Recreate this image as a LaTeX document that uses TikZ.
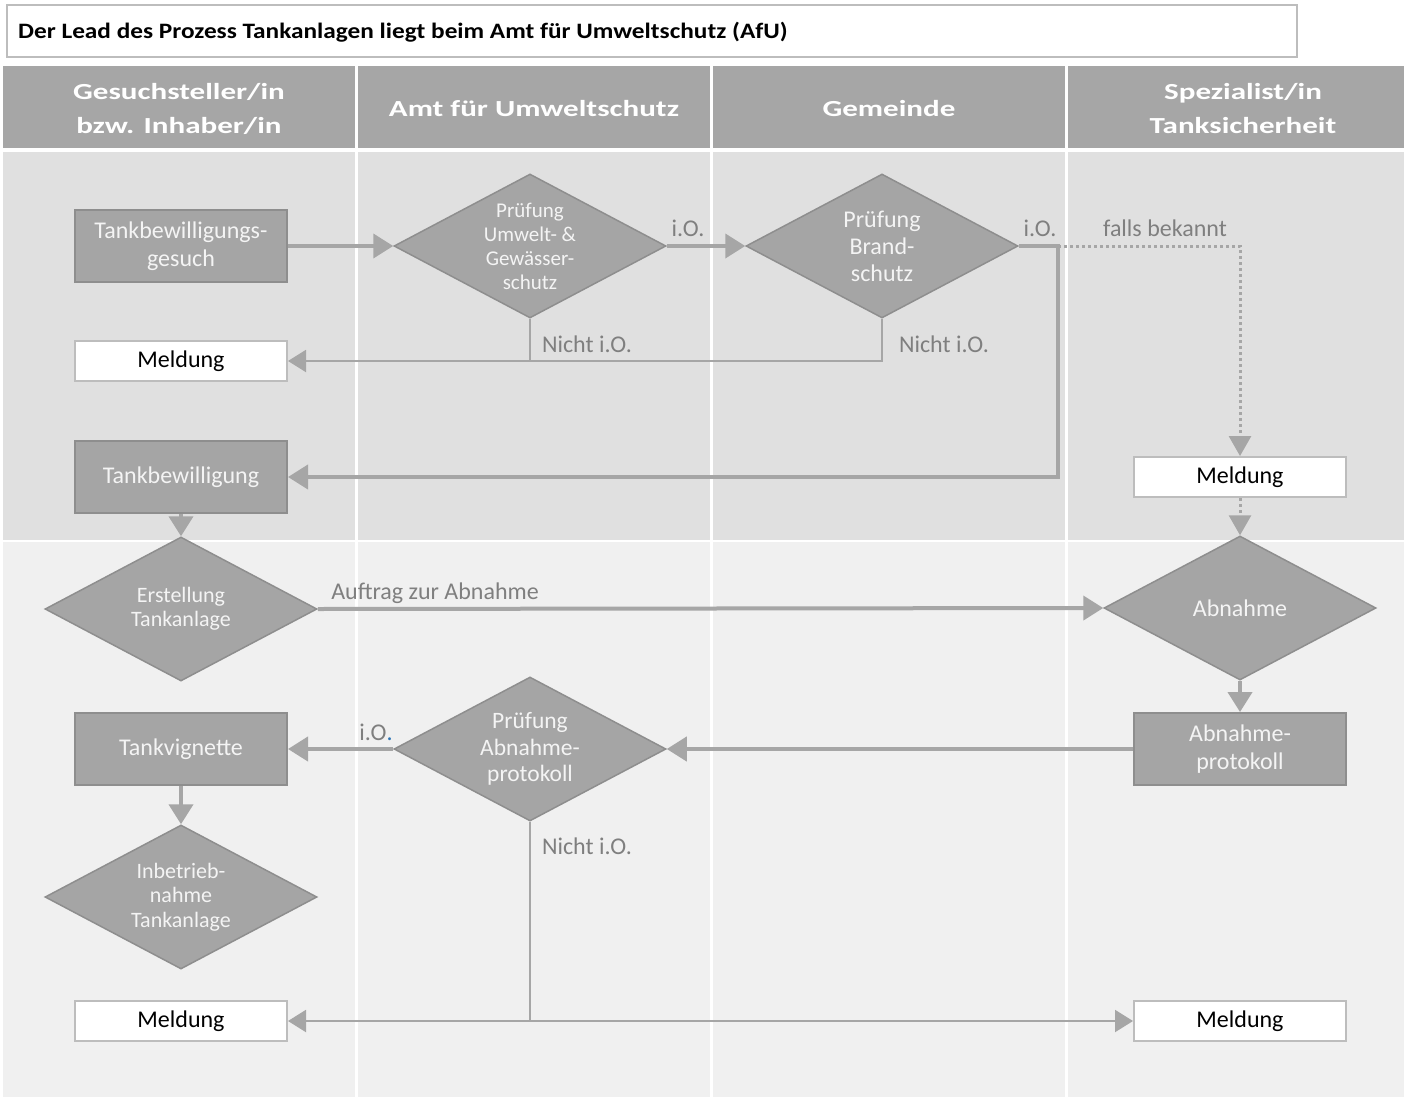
\documentclass[tikz,border=0pt]{standalone}
\usepackage{fontspec}
\setmainfont{Carlito}
\newfontfamily\titlefont{Carlito}[FakeStretch=1.15]
\newfontfamily\lanefont{Carlito}[FakeStretch=1.35]
\usetikzlibrary{shapes.geometric,arrows.meta}
\definecolor{hdr}{HTML}{A6A6A6}
\definecolor{boxfill}{HTML}{A5A5A5}
\definecolor{boxedge}{HTML}{8E8E8E}
\definecolor{flowc}{HTML}{A6A6A6}
\definecolor{upperbg}{HTML}{E0E0E0}
\definecolor{lowerbg}{HTML}{F0F0F0}
\definecolor{lbl}{HTML}{7F7F7F}
\definecolor{msgedge}{HTML}{BDBDBD}
\definecolor{offwhite}{HTML}{F4F4F4}
\definecolor{dotblue}{HTML}{2E75B6}
\newcommand{\fs}[2]{\fontsize{#1}{#2}\selectfont}
\tikzset{
  taskbox/.style={rectangle, fill=boxfill, draw=boxedge, line width=2pt,
    minimum width=212pt, minimum height=72pt, inner sep=0pt,
    text=offwhite, align=center, font=\fs{24}{28}},
  msgbox/.style={rectangle, fill=white, draw=msgedge, line width=2pt,
    minimum width=212pt, minimum height=40pt, inner sep=0pt,
    text=black, font=\fs{24}{28}},
  decision/.style={diamond, fill=boxfill, draw=boxedge, line width=1.5pt,
    minimum width=272pt, minimum height=144pt, inner sep=0pt},
  dtext/.style={align=center, text=offwhite, inner sep=0pt},
  flow/.style={draw=flowc, line width=4pt, -{Triangle[length=20pt,width=24pt]}},
  thinflow/.style={draw=flowc, line width=2pt, -{Triangle[length=18pt,width=22pt]}},
  thinline/.style={draw=flowc, line width=2pt},
  dotflow/.style={draw=flowc, line width=3pt, dash pattern=on 3pt off 3pt,
    -{Triangle[length=20pt,width=22pt]}},
  note/.style={text=lbl, font=\fs{24}{28}, inner sep=0pt},
  headtext/.style={text=white, font=\lanefont\bfseries\fs{23}{34}, align=center},
}
\begin{document}
\begin{tikzpicture}[x=1pt,y=-1pt]
\useasboundingbox (0,0) rectangle (1404,1097);
\fill[white] (0,0) rectangle (1404,1097);

% title box
\node[draw=msgedge, line width=2pt, fill=white, minimum width=1290pt, minimum height=52pt,
  inner sep=0pt, anchor=north west] (titlebox) at (6,4) {};
\node[anchor=west, font=\titlefont\bfseries\fs{22}{26}, inner sep=0pt] (titletext) at (18,32)
  {Der Lead des Prozess Tankanlagen liegt beim Amt für Umweltschutz (AfU)};

% lane headers
\fill[hdr] (3,66) rectangle (355,148);
\fill[hdr] (358,66) rectangle (710,148);
\fill[hdr] (713,66) rectangle (1065,148);
\fill[hdr] (1068,66) rectangle (1404,148);
\node[headtext] (h1) at (179,109) {Gesuchsteller/in\\bzw. Inhaber/in};
\node[headtext] (h2) at (534,109) {Amt für Umweltschutz};
\node[headtext] (h3) at (889,109) {Gemeinde};
\node[headtext] (h4) at (1243,109) {Spezialist/in\\Tanksicherheit};

% lane bodies
\fill[upperbg] (3,152) rectangle (1404,540);
\fill[lowerbg] (3,542) rectangle (1404,1097);
\foreach \lx in {356.5,711.5,1066.5}
  \draw[white, line width=2.5pt] (\lx,152) -- (\lx,1097);

% process steps
\node[taskbox] (gesuch) at (181,246) {Tankbewilligungs-\\gesuch};
\node[msgbox] (m1) at (181,361) {Meldung};
\node[taskbox] (tbw) at (181,477) {Tankbewilligung};
\node[decision, label={[dtext, font=\fs{21}{24}]center:Prüfung\\Umwelt- \&\\Gewässer-\\schutz}] (d1) at (530,246) {};
\node[decision, label={[dtext, font=\fs{24}{27}]center:Prüfung\\Brand-\\schutz}] (d2) at (882,246) {};
\node[msgbox] (m2) at (1240,477) {Meldung};
\node[decision, label={[dtext, font=\fs{22}{24}]center:Erstellung\\Tankanlage}] (erst) at (181,609) {};
\node[decision, label={[dtext, font=\fs{24}{27}]center:Abnahme}] (abn) at (1240,608) {};
\node[taskbox] (prot) at (1240,749) {Abnahme-\\protokoll};
\node[decision, label={[dtext, font=\fs{23.5}{26.5}]center:Prüfung\\Abnahme-\\protokoll}] (d3) at (530,749) {};
\node[taskbox] (vign) at (181,749) {Tankvignette};
\node[decision, label={[dtext, font=\fs{22}{24.5}]center:Inbetrieb-\\nahme\\Tankanlage}] (inb) at (181,897) {};
\node[msgbox] (m3) at (181,1021) {Meldung};
\node[msgbox] (m4) at (1240,1021) {Meldung};

% connectors
\coordinate (split) at (1058,246);
\draw[flow] (gesuch.east) -- (d1.west);
\draw[flow] (d1.east) -- (d2.west);
\draw[thinflow] (d1.south) |- (m1.east);
\draw[thinline] (d2.south) |- (d1.south |- m1.east);
\draw[flow] (d2.east) -- (split) |- (tbw.east);
\draw[dotflow] (split) -| (m2.north);
\draw[dotflow] (m2.south) -- (abn.north);
\draw[flow] (tbw.south) -- (erst.north);
\draw[flow] (erst.east) -- (abn.west);
\draw[flow] (abn.south) -- (prot.north);
\draw[flow] (prot.west) -- (d3.east);
\draw[flow] (d3.west) -- (vign.east);
\draw[flow] (vign.south) -- (inb.north);
\coordinate (fork) at (d3.south |- m3.east);
\draw[thinline] (d3.south) -- (fork);
\draw[thinflow] (fork) -- (m3.east);
\draw[thinflow] (fork) -- (m4.west);

% connector labels
\node[note] (l1) at (688,228) {i.O.};
\node[note] (l2) at (587,344) {Nicht i.O.};
\node[note] (l3) at (944,344) {Nicht i.O.};
\node[note] (l4) at (1040,228) {i.O.};
\node[note] (l5) at (1165,228) {falls bekannt};
\node[note] (l6) at (435,593) {Auftrag zur Abnahme};
\node[note] (l7) at (376,732) {i.O\textcolor{dotblue}{.}};
\node[note] (l8) at (587,846) {Nicht i.O.};
\end{tikzpicture}
\end{document}
